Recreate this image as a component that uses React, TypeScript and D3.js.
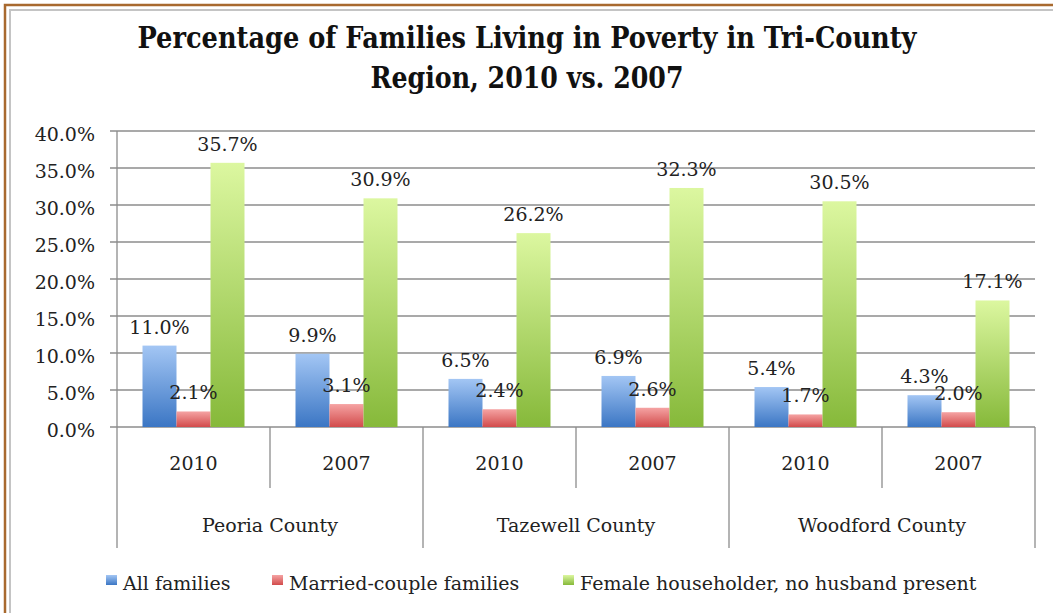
import React from "react";
import * as d3 from "d3";

const counties = ["Peoria County", "Tazewell County", "Woodford County"];
const years = ["2010", "2007"];
const seriesNames = ["All families", "Married-couple families", "Female householder, no husband present"];
// values per county-year, in order: Peoria 2010, Peoria 2007, Tazewell 2010, Tazewell 2007, Woodford 2010, Woodford 2007
const allFamilies = [11.0, 9.9, 6.5, 6.9, 5.4, 4.3];
const marriedCouple = [2.1, 3.1, 2.4, 2.6, 1.7, 2.0];
const femaleHouseholder = [35.7, 30.9, 26.2, 32.3, 30.5, 17.1];
const yTicks = [0, 5, 10, 15, 20, 25, 30, 35, 40];

const W = 1053;
const H = 613;
const FONT = "'DejaVu Serif', serif";
const FS = 19;

const gradients = [
  { id: "gBlue", top: "#a3c6f4", bottom: "#3b76c4" },
  { id: "gRed", top: "#f5a3a3", bottom: "#d24b4b" },
  { id: "gGreen", top: "#dcf7a0", bottom: "#86b93a" },
];

export default function App() {
  const left = 117, right = 1035, top = 131, bottom = 427;
  const groups: { county: string; year: string; key: string }[] = [];
  counties.forEach((c) => years.forEach((y) => groups.push({ county: c, year: y, key: c + "|" + y })));
  const series = [allFamilies, marriedCouple, femaleHouseholder];

  const x0 = d3.scaleBand<string>().domain(groups.map((g) => g.key)).range([left, right]).paddingInner(0).paddingOuter(0);
  const bw = x0.bandwidth();
  const barW = bw / 4.5;
  const x1 = d3.scaleBand<number>().domain([0, 1, 2]).range([barW * 0.75, bw - barW * 0.75]).padding(0);
  const xc = d3.scaleBand<string>().domain(counties).range([left, right]);
  const y = d3.scaleLinear().domain([0, 40]).range([bottom, top]);

  const gridColor = "#8c8c8c";
  const textColor = "#222";

  return (
    <svg width={W} height={H} style={{ position: "absolute", left: 0, top: 0, background: "#fff" }} fontFamily={FONT}>
      <defs>
        {gradients.map((g) => (
          <linearGradient key={g.id} id={g.id} x1="0" y1="0" x2="0" y2="1">
            <stop offset="0%" stopColor={g.top} />
            <stop offset="100%" stopColor={g.bottom} />
          </linearGradient>
        ))}
      </defs>
      <rect x={0} y={0} width={W} height={H} fill="#fff" />
      {/* frame */}
      <rect x={5} y={5} width={1200} height={800} fill="none" stroke="#a8692e" strokeWidth={2.5} />
      <rect x={10} y={10} width={1200} height={800} fill="none" stroke="#c4c4c4" strokeWidth={2} />

      {/* title */}
      <text x={527} y={48} textAnchor="middle" fontSize={29} fontWeight="bold" fill="#111" textLength={779} lengthAdjust="spacingAndGlyphs">
        Percentage of Families Living in Poverty in Tri-County
      </text>
      <text x={527} y={88} textAnchor="middle" fontSize={29} fontWeight="bold" fill="#111" textLength={313} lengthAdjust="spacingAndGlyphs">
        Region, 2010 vs. 2007
      </text>

      {/* gridlines & y ticks */}
      {yTicks.map((t) => (
        <g key={t}>
          <line x1={left - 7} x2={right} y1={y(t)} y2={y(t)} stroke={gridColor} strokeWidth={1.3} />
          <text x={95} y={y(t) + 5} textAnchor="end" dominantBaseline="middle" fontSize={FS} fill={textColor}>
            {t.toFixed(1) + "%"}
          </text>
        </g>
      ))}
      <line x1={left} x2={left} y1={top} y2={bottom} stroke={gridColor} strokeWidth={1.3} />

      {/* bars */}
      {groups.map((g, gi) => (
        <g key={g.key}>
          {series.map((s, si) => {
            const v = s[gi];
            const bx = (x0(g.key) as number) + (x1(si) as number);
            return (
              <rect key={si} x={bx} y={y(v)} width={barW} height={bottom - y(v)} fill={`url(#${gradients[si].id})`} />
            );
          })}
        </g>
      ))}
      {/* labels */}
      {groups.map((g, gi) => (
        <g key={g.key + "l"}>
          {series.map((s, si) => {
            const v = s[gi];
            const cx = (x0(g.key) as number) + (x1(si) as number) + barW / 2;
            return (
              <text key={si} x={cx} y={y(v) - 12} textAnchor="middle" fontSize={FS} fill={textColor}>
                {v.toFixed(1) + "%"}
              </text>
            );
          })}
        </g>
      ))}

      {/* x axis: year level */}
      {groups.map((g, gi) => {
        const gx = x0(g.key) as number;
        return (
          <g key={g.key + "ax"}>
            {gi % 2 === 1 && <line x1={gx} x2={gx} y1={bottom} y2={488} stroke={gridColor} strokeWidth={1.3} />}
            <text x={gx + bw / 2} y={470} textAnchor="middle" fontSize={FS} fill={textColor}>
              {g.year}
            </text>
          </g>
        );
      })}
      {/* county level */}
      {counties.map((c) => {
        const cx = xc(c) as number;
        return (
          <g key={c}>
            <line x1={cx} x2={cx} y1={bottom} y2={548} stroke={gridColor} strokeWidth={1.3} />
            <text x={cx + xc.bandwidth() / 2} y={532} textAnchor="middle" fontSize={FS} fill={textColor}>
              {c}
            </text>
          </g>
        );
      })}
      <line x1={right} x2={right} y1={bottom} y2={548} stroke={gridColor} strokeWidth={1.3} />

      {/* legend */}
      {seriesNames.map((n, i) => {
        const lx = [106, 272, 563][i];
        return (
          <g key={n}>
            <rect x={lx} y={575} width={11} height={10} fill={`url(#${gradients[i].id})`} />
            <text x={lx + 17} y={590} fontSize={FS} fill={textColor}>
              {n}
            </text>
          </g>
        );
      })}
    </svg>
  );
}
